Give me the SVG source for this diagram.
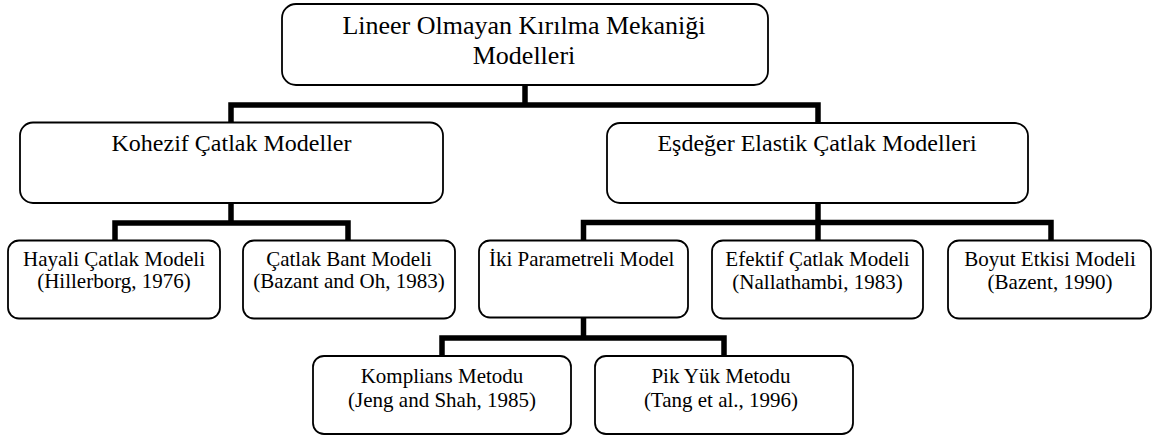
<svg xmlns="http://www.w3.org/2000/svg" width="1153" height="436" viewBox="0 0 1153 436">
<style>
.box{fill:#fff;stroke:#000;stroke-width:1.8}
text{font-family:'Liberation Serif','Tinos','Times New Roman','DejaVu Serif',serif;fill:#000;text-anchor:middle}
.t1{font-size:26px}
.t2{font-size:24px}
.t3{font-size:21px}
.con{fill:none;stroke:#000;stroke-width:5.5;stroke-linejoin:miter;stroke-linecap:butt}
</style>
<rect width="1153" height="436" fill="#fff"/>
<g id="connectors">
<path class="con" d="M525,85 V105"/>
<path class="con" d="M231,122 V105 H818 V123"/>
<path class="con" d="M231,203 V223"/>
<path class="con" d="M115,240 V223 H348 V240"/>
<path class="con" d="M818,203 V240"/>
<path class="con" d="M583.5,240 V222.5 H1051 V240"/>
<path class="con" d="M583.5,318 V338"/>
<path class="con" d="M442,356 V338 H724 V356"/>
</g>
<g id="root" font-family="Liberation Serif">
<rect class="box" x="282" y="4" width="486" height="81" rx="14"/>
<text class="t1" x="524" y="34" font-family="Liberation Serif">Lineer Olmayan Kırılma Mekaniği</text>
<text class="t1" x="524" y="64" font-family="Liberation Serif">Modelleri</text>
</g>
<g id="kohezif">
<rect class="box" x="20" y="122.5" width="423" height="80.5" rx="13"/>
<text class="t2" x="231.5" y="151">Kohezif Çatlak Modeller</text>
</g>
<g id="esdeger">
<rect class="box" x="607" y="123" width="421" height="80" rx="13"/>
<text class="t2" x="817" y="151">Eşdeğer Elastik Çatlak Modelleri</text>
</g>
<g id="hayali">
<rect class="box" x="8" y="240.5" width="212" height="78" rx="11"/>
<text class="t3" x="114" y="266">Hayali Çatlak Modeli</text>
<text class="t3" x="114" y="288">(Hillerborg, 1976)</text>
</g>
<g id="bant">
<rect class="box" x="243" y="240.5" width="212" height="78" rx="11"/>
<text class="t3" x="349" y="266">Çatlak Bant Modeli</text>
<text class="t3" x="349" y="288">(Bazant and Oh, 1983)</text>
</g>
<g id="iki">
<rect class="box" x="479" y="240.5" width="209" height="77" rx="11"/>
<text class="t3" x="489" y="266" style="text-anchor:start">İki Parametreli Model</text>
</g>
<g id="efektif">
<rect class="box" x="712" y="240.5" width="211" height="78" rx="11"/>
<text class="t3" x="817.5" y="266">Efektif Çatlak Modeli</text>
<text class="t3" x="817.5" y="289">(Nallathambi, 1983)</text>
</g>
<g id="boyut">
<rect class="box" x="948" y="240.5" width="203" height="78" rx="11"/>
<text class="t3" x="1050" y="266">Boyut Etkisi Modeli</text>
<text class="t3" x="1050" y="289">(Bazent, 1990)</text>
</g>
<g id="komplians">
<rect class="box" x="313" y="356" width="258" height="78" rx="11"/>
<text class="t3" x="442" y="383">Komplians Metodu</text>
<text class="t3" x="442" y="407">(Jeng and Shah, 1985)</text>
</g>
<g id="pik">
<rect class="box" x="595" y="356" width="258" height="78" rx="11"/>
<text class="t3" x="721" y="383">Pik Yük Metodu</text>
<text class="t3" x="721" y="407">(Tang et al., 1996)</text>
</g>
</svg>
